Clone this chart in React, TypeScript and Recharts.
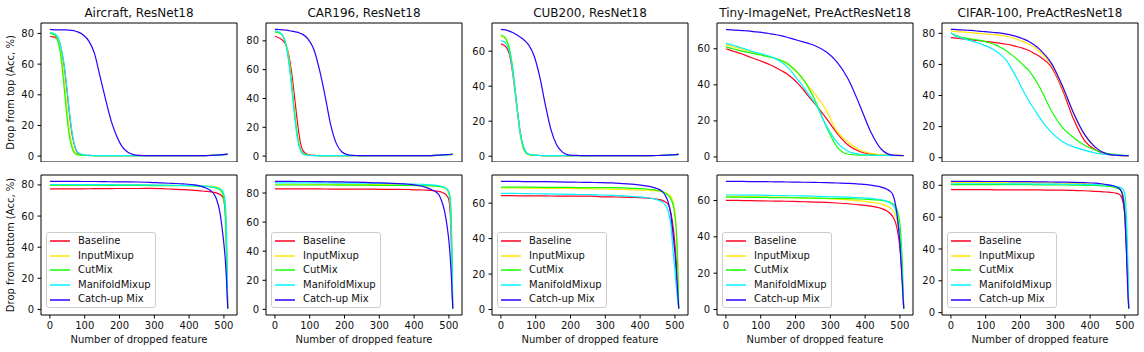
import React from 'react';
import { LineChart, Line, XAxis, YAxis, Legend, ReferenceArea } from 'recharts';

const seriesNames = ['Baseline', 'InputMixup', 'CutMix', 'ManifoldMixup', 'Catch-up Mix'];
const seriesColors = ['#ff0022', '#ffe600', '#12ff00', '#00f2ff', '#2a00ff'];
const panelTitles = ['Aircraft, ResNet18', 'CAR196, ResNet18', 'CUB200, ResNet18', 'Tiny-ImageNet, PreActResNet18', 'CIFAR-100, PreActResNet18'];
const rowYLabels = ['Drop from top (Acc, %)', 'Drop from bottom (Acc, %)'];
const xAxisLabel = 'Number of dropped feature';
const xTicks = [0, 100, 200, 300, 400, 500];
const yTicks80 = [0, 20, 40, 60, 80];
const yTicks60 = [0, 20, 40, 60];

const topSteps = [0, 8, 16, 24, 32, 40, 48, 56, 64, 72, 80, 96, 112, 128, 144, 160, 176, 192, 208, 224, 240, 256, 288, 320, 352, 384, 416, 448, 480, 511];
const bottomSteps = [0, 32, 64, 96, 128, 160, 192, 224, 256, 288, 320, 352, 384, 416, 432, 448, 464, 472, 480, 488, 496, 500, 504, 508, 511];

// ---- Drop from top ----
const airTopBaseline = [78, 77.8, 77.3, 75.5, 70, 60, 45, 28, 14, 6, 2, 0.7, 0.5, 0.4, 0.3, 0.3, 0.3, 0.3, 0.3, 0.3, 0.3, 0.3, 0.3, 0.3, 0.3, 0.3, 0.3, 0.4, 0.6, 1.2];
const airTopInput = [80, 79.8, 79, 76, 68, 53, 34, 17, 7, 2.5, 1, 0.5, 0.4, 0.3, 0.3, 0.3, 0.3, 0.3, 0.3, 0.3, 0.3, 0.3, 0.3, 0.3, 0.3, 0.3, 0.3, 0.4, 0.7, 1.4];
const airTopCutMix = [80, 79.5, 78.5, 74, 64, 47, 28, 13, 5, 1.8, 0.8, 0.5, 0.4, 0.3, 0.3, 0.3, 0.3, 0.3, 0.3, 0.3, 0.3, 0.3, 0.3, 0.3, 0.3, 0.3, 0.3, 0.4, 0.6, 1.2];
const airTopManifold = [80.5, 80.3, 79.5, 77, 71, 61, 46, 29, 15, 6, 2.5, 0.8, 0.5, 0.4, 0.3, 0.3, 0.3, 0.3, 0.3, 0.3, 0.3, 0.3, 0.3, 0.3, 0.3, 0.3, 0.3, 0.4, 0.6, 1.2];
const airTopCatchup = [82.7, 82.5, 82.4, 82.4, 82.4, 82.4, 82.3, 82.2, 82, 81.6, 81, 79, 75, 67, 52, 37, 23, 13, 6, 2.5, 1, 0.5, 0.3, 0.3, 0.3, 0.3, 0.3, 0.4, 0.7, 1.3];

const carTopBaseline = [83, 82.5, 81.5, 80, 77, 70, 58, 42, 25, 11, 4, 0.8, 0.5, 0.4, 0.3, 0.3, 0.3, 0.3, 0.3, 0.3, 0.3, 0.3, 0.3, 0.3, 0.3, 0.3, 0.3, 0.4, 0.7, 1.2];
const carTopInput = [86.5, 86, 85, 83, 78, 68, 52, 33, 16, 6, 2, 0.6, 0.5, 0.4, 0.3, 0.3, 0.3, 0.3, 0.3, 0.3, 0.3, 0.3, 0.3, 0.3, 0.3, 0.3, 0.3, 0.4, 0.7, 1.2];
const carTopCutMix = [86, 85.8, 85, 83, 77, 66, 50, 31, 15, 5.5, 2, 0.6, 0.4, 0.3, 0.3, 0.3, 0.3, 0.3, 0.3, 0.3, 0.3, 0.3, 0.3, 0.3, 0.3, 0.3, 0.3, 0.4, 0.7, 1.2];
const carTopManifold = [87, 86.5, 85.5, 83, 77, 65, 48, 29, 13, 5, 1.5, 0.5, 0.4, 0.3, 0.3, 0.3, 0.3, 0.3, 0.3, 0.3, 0.3, 0.3, 0.3, 0.3, 0.3, 0.3, 0.3, 0.4, 0.7, 1.2];
const carTopCatchup = [88, 87.9, 87.8, 87.6, 87.4, 87.1, 86.8, 86.4, 86, 85.3, 84.5, 81, 74, 60, 42, 22, 9, 3, 1, 0.5, 0.4, 0.3, 0.3, 0.3, 0.3, 0.3, 0.3, 0.4, 0.8, 1.3];

const cubTopBaseline = [64.2, 63.5, 62, 58.5, 50, 38, 25, 13, 5.5, 2, 1, 0.5, 0.4, 0.3, 0.3, 0.3, 0.3, 0.3, 0.3, 0.3, 0.3, 0.3, 0.3, 0.3, 0.3, 0.3, 0.3, 0.4, 0.6, 1.0];
const cubTopInput = [68.5, 68, 66, 61, 52, 38, 24, 11.5, 4.5, 1.8, 0.8, 0.5, 0.4, 0.3, 0.3, 0.3, 0.3, 0.3, 0.3, 0.3, 0.3, 0.3, 0.3, 0.3, 0.3, 0.3, 0.3, 0.4, 0.6, 1.0];
const cubTopCutMix = [69, 68.5, 66.5, 62, 53, 40, 25, 12.5, 5, 2, 1, 0.5, 0.4, 0.3, 0.3, 0.3, 0.3, 0.3, 0.3, 0.3, 0.3, 0.3, 0.3, 0.3, 0.3, 0.3, 0.3, 0.4, 0.6, 1.0];
const cubTopManifold = [66, 65.5, 64, 60, 52, 39, 25, 13, 6, 2.5, 1.2, 0.6, 0.4, 0.3, 0.3, 0.3, 0.3, 0.3, 0.3, 0.3, 0.3, 0.3, 0.3, 0.3, 0.3, 0.3, 0.3, 0.4, 0.6, 1.0];
const cubTopCatchup = [72.5, 72.3, 72, 71.5, 70.8, 70, 69, 68, 66.8, 65.3, 63.5, 57, 45, 29, 15, 6.5, 2.5, 0.8, 0.5, 0.4, 0.3, 0.3, 0.3, 0.3, 0.3, 0.3, 0.3, 0.4, 0.6, 1.0];

const tinyTopBaseline = [60, 59.5, 59, 58.5, 58, 57.5, 57, 56.4, 55.8, 55.2, 54.6, 53.5, 52.3, 51, 49.5, 47.8, 46, 43.5, 40.5, 37, 33, 29.5, 21.5, 13, 6.5, 3, 1.5, 1, 0.8, 0.7];
const tinyTopInput = [62, 61.7, 61.4, 61, 60.6, 60.2, 59.8, 59.3, 58.8, 58.3, 57.8, 57, 56.2, 55.3, 54.4, 53.3, 51.5, 49, 46, 42.5, 38.5, 35, 26, 14, 8, 4, 2, 1.2, 1, 0.8];
const tinyTopCutMix = [61, 60.6, 60.2, 59.8, 59.4, 59, 58.7, 58.4, 58, 57.7, 57.3, 56.7, 56, 55.3, 54.5, 53.5, 52, 49.5, 46.5, 42.5, 37.5, 31.5, 17, 5.5, 1.5, 1, 0.9, 0.8, 0.8, 0.7];
const tinyTopManifold = [63, 62.6, 62.2, 61.8, 61.3, 60.8, 60.3, 59.8, 59.3, 58.8, 58.3, 57.5, 56.7, 55.7, 54.3, 52.5, 50, 46.5, 42.5, 38.5, 34, 30, 17.5, 8, 3, 1.5, 1, 0.9, 0.8, 0.8];
const tinyTopCatchup = [70.8, 70.6, 70.5, 70.4, 70.3, 70.2, 70.1, 70, 69.9, 69.7, 69.5, 69.2, 68.8, 68.3, 67.8, 67.2, 66.4, 65.5, 64.6, 63.7, 62.8, 61.7, 58.3, 52.5, 43, 29, 14, 4, 1, 0.8];

const cifarTopBaseline = [77.3, 77.1, 76.9, 76.7, 76.5, 76.3, 76.1, 75.9, 75.7, 75.5, 75.3, 74.9, 74.5, 74.1, 73.6, 73, 72.3, 71.4, 70.3, 69, 67, 65, 58.5, 44, 25, 11, 5, 2.3, 1.5, 1.3];
const cifarTopInput = [81.5, 81.3, 81.1, 81, 80.9, 80.8, 80.6, 80.5, 80.3, 80.1, 80, 79.7, 79.4, 79.2, 78.7, 78, 77.2, 76, 74.7, 73, 71, 68, 60, 45.5, 28.5, 14.5, 6.5, 2.5, 1.5, 1.3];
const cifarTopCutMix = [80.2, 79.3, 78.6, 78, 77.5, 77.1, 76.8, 76.5, 76.2, 75.9, 75.6, 74.8, 73.8, 72.6, 70.8, 68.7, 66, 63, 59.5, 56, 51, 45, 30.5, 19.5, 13, 8, 4.8, 2.8, 1.8, 1.3];
const cifarTopManifold = [80.5, 79, 78, 77.4, 76.9, 76.3, 75.8, 75.3, 74.8, 74.3, 73.7, 72.3, 70.8, 68.8, 66, 62.5, 56.5, 50, 43, 36.5, 31, 25.5, 16.5, 10.5, 7, 4.8, 3, 2.1, 1.6, 1.3];
const cifarTopCatchup = [82.6, 82.5, 82.4, 82.3, 82.2, 82.1, 82, 81.9, 81.8, 81.6, 81.4, 81.1, 80.8, 80.5, 80.1, 79.5, 78.7, 77.7, 76.4, 74.8, 72.5, 69.5, 61, 46.5, 29, 15, 6.5, 2.5, 1.5, 1.3];

// ---- Drop from bottom ----
const airBotBaseline = [77.5, 77.5, 77.5, 77.5, 77.6, 77.6, 77.7, 77.7, 77.7, 77.8, 77.6, 77.3, 77, 76.5, 76.2, 75.9, 75.5, 75.2, 74.7, 74, 72.5, 70, 62, 35, 0.5];
const airBotInput = [80, 80, 80, 80, 80, 80, 80, 80, 80, 79.9, 79.8, 79.8, 79.7, 79.6, 79.5, 79.4, 79.1, 78.9, 78.5, 77.8, 76, 73, 65, 40, 0.5];
const airBotCutMix = [79.8, 79.8, 79.8, 79.8, 79.8, 79.8, 79.7, 79.7, 79.7, 79.6, 79.6, 79.5, 79.5, 79.4, 79.2, 79, 78.6, 78.3, 77.8, 77, 74.5, 71, 60, 30, 0.5];
const airBotManifold = [80.3, 80.3, 80.3, 80.2, 80.2, 80.2, 80.1, 80.1, 80, 80, 79.9, 79.8, 79.7, 79.6, 79.4, 79.2, 78.8, 78.5, 78.2, 77.5, 76, 74, 68, 45, 0.5];
const airBotCatchup = [82.3, 82.3, 82.3, 82.2, 82.2, 82.1, 82, 82, 81.9, 81.7, 81.3, 81, 80.7, 80, 79.2, 78, 76, 74, 70, 63, 50, 42, 32, 16, 0.5];

const carBotBaseline = [82.8, 82.8, 82.8, 82.8, 82.8, 82.7, 82.7, 82.7, 82.6, 82.6, 82.5, 82.5, 82.4, 82.2, 82, 81.8, 81.3, 81, 80.5, 79.5, 77.5, 75, 65, 35, 0.5];
const carBotInput = [86, 86, 86, 86, 85.9, 85.9, 85.9, 85.8, 85.8, 85.7, 85.7, 85.6, 85.5, 85.3, 85.2, 85, 84.7, 84.4, 84, 83.2, 81.5, 79, 72, 42, 0.5];
const carBotCutMix = [85.5, 85.5, 85.5, 85.5, 85.5, 85.5, 85.4, 85.4, 85.4, 85.3, 85.3, 85.2, 85.2, 85.1, 85, 84.9, 84.7, 84.5, 84.2, 83.6, 82.5, 80.5, 76, 50, 0.5];
const carBotManifold = [87, 87, 87, 87, 86.9, 86.9, 86.8, 86.8, 86.7, 86.7, 86.6, 86.4, 86.2, 86, 85.8, 85.6, 85.3, 85, 84.5, 83.7, 82, 79.5, 73, 45, 0.5];
const carBotCatchup = [88, 88, 87.9, 87.9, 87.8, 87.7, 87.6, 87.5, 87.3, 87, 86.8, 86.5, 86, 85, 84, 82.5, 80.5, 78.5, 74, 67, 55, 47, 35, 18, 0.5];

const cubBotBaseline = [64.2, 64.2, 64.1, 64.1, 64.1, 64, 64, 64, 64, 63.6, 63.5, 63.4, 63.2, 63, 62.7, 62.3, 61.6, 60.8, 59.5, 55, 45, 37, 26, 12, 0.5];
const cubBotInput = [68.6, 68.6, 68.5, 68.5, 68.4, 68.4, 68.3, 68.2, 68.1, 68, 67.9, 67.7, 67.5, 67.3, 67.1, 66.9, 66.4, 66, 65.2, 63.8, 60, 55, 45, 28, 0.5];
const cubBotCutMix = [69, 69, 69, 69, 68.9, 68.9, 68.9, 68.8, 68.8, 68.8, 68.8, 68.6, 68.4, 68, 67.7, 67.3, 66.5, 65.8, 64.5, 62.5, 58, 53, 44, 25, 0.5];
const cubBotManifold = [65.5, 65.5, 65.4, 65.3, 65.2, 65.1, 65, 64.9, 64.8, 64.6, 64.4, 64.1, 63.7, 63.2, 62.7, 62, 60.5, 59, 56, 48, 30, 22, 13, 5, 0.5];
const cubBotCatchup = [72.3, 72.3, 72.2, 72.2, 72.1, 72, 71.9, 71.8, 71.7, 71.6, 71.4, 71, 70.6, 69.8, 69.2, 68.3, 66.5, 64.5, 61, 54, 40, 32, 22, 10, 0.5];

const tinyBotBaseline = [60, 60, 59.9, 59.8, 59.7, 59.6, 59.5, 59.3, 59.1, 58.9, 58.6, 58.2, 57.6, 56.9, 56.3, 55.5, 54, 52.8, 51, 47.5, 40, 34, 24, 12, 0.5];
const tinyBotInput = [62.2, 62.2, 62.1, 62, 61.9, 61.8, 61.6, 61.4, 61.2, 61, 60.7, 60.3, 59.8, 59.1, 58.6, 58, 56.8, 56, 54.5, 51.5, 45, 40, 30, 15, 0.5];
const tinyBotCutMix = [61.8, 61.8, 61.7, 61.7, 61.6, 61.5, 61.5, 61.4, 61.3, 61.2, 61.1, 61, 60.8, 60.5, 60.3, 60, 59.5, 59, 58.2, 56.5, 52, 47, 37, 20, 0.5];
const tinyBotManifold = [63, 63, 62.9, 62.9, 62.8, 62.7, 62.6, 62.5, 62.3, 62.1, 62, 61.8, 61.5, 61.1, 60.8, 60.3, 59.4, 58.6, 57.3, 54.5, 47, 40, 28, 13, 0.5];
const tinyBotCatchup = [70.5, 70.5, 70.4, 70.4, 70.3, 70.2, 70.1, 70, 69.9, 69.8, 69.6, 69.4, 69, 68.4, 67.9, 67.2, 66, 65, 63, 57, 45, 36, 24, 10, 0.5];

const cifarBotBaseline = [77.3, 77.3, 77.3, 77.3, 77.2, 77.2, 77.2, 77.1, 77.1, 77, 77, 76.8, 76.6, 76.2, 76, 75.8, 75.5, 75.2, 74.8, 73.5, 68, 60, 42, 20, 2.5];
const cifarBotInput = [81.8, 81.8, 81.8, 81.7, 81.7, 81.6, 81.6, 81.5, 81.5, 81.4, 81.3, 81.2, 81, 80.7, 80.4, 80, 79.5, 79.2, 78.5, 77.5, 73, 67, 52, 28, 2.5];
const cifarBotCutMix = [80.5, 80.5, 80.5, 80.5, 80.5, 80.4, 80.4, 80.4, 80.3, 80.3, 80.2, 80.1, 80, 79.9, 79.7, 79.5, 79, 78.6, 78, 77, 72, 64, 48, 25, 2.5];
const cifarBotManifold = [81, 81, 81, 81, 81, 80.9, 80.9, 80.9, 80.8, 80.8, 80.7, 80.6, 80.5, 80.4, 80.2, 80, 79.7, 79.4, 79, 78.5, 77, 74, 62, 35, 2.5];
const cifarBotCatchup = [82.5, 82.5, 82.5, 82.4, 82.4, 82.4, 82.3, 82.3, 82.2, 82.1, 82, 81.9, 81.7, 81.4, 81, 80.5, 79.8, 79.3, 78.5, 77, 70, 60, 40, 15, 2.5];

const topRow = [
  [airTopBaseline, airTopInput, airTopCutMix, airTopManifold, airTopCatchup],
  [carTopBaseline, carTopInput, carTopCutMix, carTopManifold, carTopCatchup],
  [cubTopBaseline, cubTopInput, cubTopCutMix, cubTopManifold, cubTopCatchup],
  [tinyTopBaseline, tinyTopInput, tinyTopCutMix, tinyTopManifold, tinyTopCatchup],
  [cifarTopBaseline, cifarTopInput, cifarTopCutMix, cifarTopManifold, cifarTopCatchup],
];
const bottomRow = [
  [airBotBaseline, airBotInput, airBotCutMix, airBotManifold, airBotCatchup],
  [carBotBaseline, carBotInput, carBotCutMix, carBotManifold, carBotCatchup],
  [cubBotBaseline, cubBotInput, cubBotCutMix, cubBotManifold, cubBotCatchup],
  [tinyBotBaseline, tinyBotInput, tinyBotCutMix, tinyBotManifold, tinyBotCatchup],
  [cifarBotBaseline, cifarBotInput, cifarBotCutMix, cifarBotManifold, cifarBotCatchup],
];
const rowTicks = [
  [yTicks80, yTicks80, yTicks60, yTicks60, yTicks80],
  [yTicks80, yTicks80, yTicks60, yTicks60, yTicks80],
];

// layout
const PLOT_LEFTS = [41, 266, 492, 717, 942];
const PLOT_W = 196;
const ROW_TOPS = [23, 175];
const PLOT_HS = [139, 140];
const Y_W = 40;
const M_TOP = 25;
const M_RIGHT = 5;
const X_DOMAIN: [number, number] = [-25.6, 537.6];
const TEXT = '#111';
const FONT = 'DejaVu Sans, sans-serif';

const LegendBox = () => (
  <div
    style={{
      boxSizing: 'border-box',
      width: 110,
      height: 76,
      border: '1px solid #cccccc',
      borderRadius: 3,
      background: 'rgba(255,255,255,0.8)',
      padding: '1px 0',
      fontFamily: FONT,
      fontSize: 10,
      color: TEXT,
    }}
  >
    {seriesNames.map((name, i) => (
      <div key={name} style={{ display: 'flex', alignItems: 'center', height: 14.6 }}>
        <svg width={20} height={4} style={{ marginLeft: 3, display: 'block' }}>
          <line x1={0} y1={2} x2={20} y2={2} stroke={seriesColors[i]} strokeWidth={1.5} />
        </svg>
        <span style={{ marginLeft: 8, lineHeight: '14.6px', whiteSpace: 'nowrap' }}>{name}</span>
      </div>
    ))}
  </div>
);

function Panel({ row, col }: { row: number; col: number }) {
  const series = row === 0 ? topRow[col] : bottomRow[col];
  const steps = row === 0 ? topSteps : bottomSteps;
  const data = steps.map((x, i) => {
    const d: any = { x };
    series.forEach((s, k) => {
      d['s' + k] = s[i];
    });
    return d;
  });
  const all = series.flat();
  const lo = Math.min(...all);
  const hi = Math.max(...all);
  const pad = (hi - lo) * 0.05;
  const yDomain: [number, number] = [lo - pad, hi + pad];
  const plotH = PLOT_HS[row];
  const xH = row === 0 ? 0 : 32;
  const width = Y_W + PLOT_W + M_RIGHT;
  const height = M_TOP + plotH + xH;
  const tickStyle = { fontSize: 10, fill: TEXT, fontFamily: FONT };
  return (
    <div style={{ position: 'absolute', left: PLOT_LEFTS[col] - Y_W, top: ROW_TOPS[row] - M_TOP, width, height }}>
      <LineChart width={width} height={height} data={data} margin={{ top: M_TOP, right: M_RIGHT, bottom: 0, left: 0 }}>
        <XAxis
          dataKey="x"
          type="number"
          domain={X_DOMAIN}
          ticks={xTicks}
          interval={0}
          height={xH}
          tick={row === 1 ? tickStyle : false}
          tickLine={row === 1 ? { stroke: '#000' } : false}
          tickSize={3.5}
          tickMargin={3.5}
          axisLine={false}
          allowDataOverflow
          label={row === 1 ? { value: xAxisLabel, position: 'insideBottom', offset: 4, fontSize: 10, fill: TEXT, fontFamily: FONT } : undefined}
        />
        <YAxis
          type="number"
          domain={yDomain}
          ticks={rowTicks[row][col]}
          interval={0}
          width={Y_W}
          tick={tickStyle}
          tickLine={{ stroke: '#000' }}
          tickSize={3.5}
          tickMargin={3.5}
          axisLine={false}
          allowDataOverflow
          label={
            col === 0
              ? { value: rowYLabels[row], angle: -90, position: 'insideLeft', offset: 9.5, fontSize: 10, fill: TEXT, fontFamily: FONT, style: { textAnchor: 'middle' } }
              : undefined
          }
        />
        {series.map((_, k) => (
          <Line
            key={k}
            dataKey={'s' + k}
            name={seriesNames[k]}
            type="monotone"
            stroke={seriesColors[k]}
            strokeWidth={1.2}
            dot={false}
            activeDot={false}
            isAnimationActive={false}
          />
        ))}
        <ReferenceArea
          x1={X_DOMAIN[0]}
          x2={X_DOMAIN[1]}
          y1={yDomain[0]}
          y2={yDomain[1]}
          fill="none"
          fillOpacity={0}
          stroke="#000"
          strokeWidth={1}
          ifOverflow="visible"
          label={row === 0 ? { value: panelTitles[col], position: 'top', offset: 6, fontSize: 12, fill: TEXT, fontFamily: FONT } : undefined}
        />
        {row === 1 ? (
          <Legend
            layout="vertical"
            align="center"
            verticalAlign="middle"
            content={LegendBox}
            wrapperStyle={{ left: Y_W + 5, top: M_TOP + plotH - 7 - 76, width: 110, height: 76, margin: 0 }}
          />
        ) : null}
      </LineChart>
    </div>
  );
}

export default function App() {
  return (
    <div style={{ position: 'absolute', left: 0, top: 0, width: 1144, height: 352, background: '#fff', fontFamily: FONT }}>
      {[0, 1].map((row) => [0, 1, 2, 3, 4].map((col) => <Panel key={row + '-' + col} row={row} col={col} />))}
    </div>
  );
}
